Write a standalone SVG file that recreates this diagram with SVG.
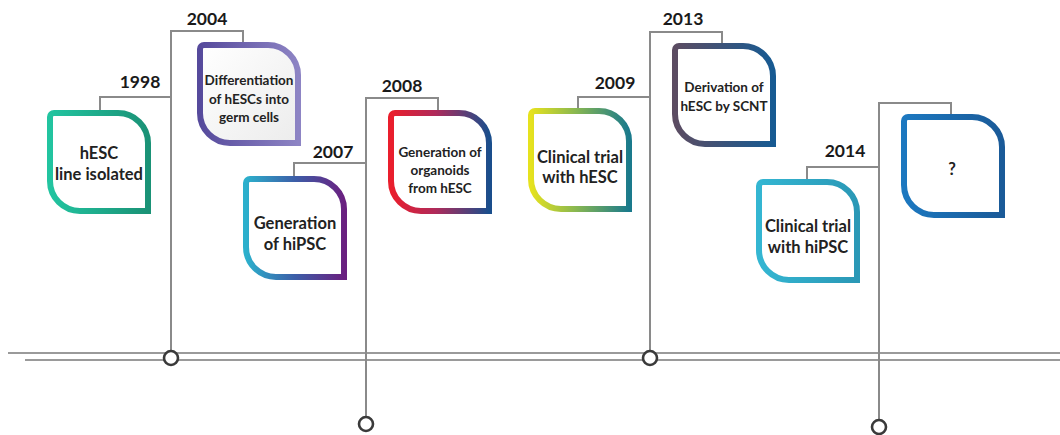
<svg xmlns="http://www.w3.org/2000/svg" width="1060" height="435" viewBox="0 0 1060 435">
<style>
.conn{fill:none;stroke:#8a8a8a;stroke-width:2}
.axis{fill:none;stroke:#9a9a9a;stroke-width:2}
.dot{fill:#fff;stroke:#3a3a3a;stroke-width:2.6}
.box{stroke-width:6;stroke-linejoin:miter}
.yr{font-family:Lato,"Liberation Sans",sans-serif;font-weight:bold;font-size:17.5px;fill:#1a1a1a;text-anchor:middle}
.t{font-family:Lato,"Liberation Sans",sans-serif;font-weight:bold;fill:#222;text-anchor:middle}
.s13{font-size:13.5px}
.s16{font-size:16.5px}
</style>
<defs>
<path id="shape" d="M7,3 H71 A30,30 0 0 1 101,33 V101 H33 A30,30 0 0 1 3,71 V7 A4,4 0 0 1 7,3 Z"/>
<linearGradient id="g1998" x1="0" y1="0" x2="1" y2="0"><stop offset="0" stop-color="#22c4a0"/><stop offset="1" stop-color="#1a9276"/></linearGradient>
<linearGradient id="g2004" x1="0" y1="0" x2="1" y2="0"><stop offset="0" stop-color="#564a9c"/><stop offset="1" stop-color="#8d84c4"/></linearGradient>
<linearGradient id="f2004" x1="0" y1="0" x2="1" y2="1"><stop offset="0" stop-color="#ffffff"/><stop offset="1" stop-color="#ececec"/></linearGradient>
<linearGradient id="g2007" x1="0" y1="0" x2="1" y2="0"><stop offset="0" stop-color="#2cb0cc"/><stop offset="0.5" stop-color="#3c5ea8"/><stop offset="1" stop-color="#6a2080"/></linearGradient>
<linearGradient id="g2008" x1="0" y1="0" x2="1" y2="0"><stop offset="0" stop-color="#ea1e2c"/><stop offset="0.45" stop-color="#b02a5a"/><stop offset="1" stop-color="#1a4e8c"/></linearGradient>
<linearGradient id="g2009" x1="0" y1="0" x2="1" y2="0"><stop offset="0" stop-color="#e6e21e"/><stop offset="0.45" stop-color="#8ab850"/><stop offset="1" stop-color="#1a7a8c"/></linearGradient>
<linearGradient id="g2013" x1="0" y1="0" x2="1" y2="0"><stop offset="0" stop-color="#5c4c62"/><stop offset="1" stop-color="#175a92"/></linearGradient>
<linearGradient id="g2014" x1="0" y1="0" x2="1" y2="0"><stop offset="0" stop-color="#34b6d2"/><stop offset="1" stop-color="#2a98b6"/></linearGradient>
<linearGradient id="gq" x1="0" y1="0" x2="1" y2="0"><stop offset="0" stop-color="#1c78c0"/><stop offset="1" stop-color="#1a5a98"/></linearGradient>
</defs>

<g id="connectors">
<line class="axis" x1="8" y1="353" x2="1060" y2="353"/>
<line class="axis" x1="25" y1="360" x2="1060" y2="360"/>
<path class="conn" d="M171,351 V31 H243 V42"/>
<path class="conn" d="M171,97 H100 V110"/>
<path class="conn" d="M366,417 V98 H438 V110"/>
<path class="conn" d="M366,163 H294 V176"/>
<path class="conn" d="M650,351 V32 H722 V43"/>
<path class="conn" d="M650,97 H578 V108"/>
<path class="conn" d="M879,420 V103 H951 V114"/>
<path class="conn" d="M879,167 H807 V179"/>
<circle class="dot" cx="171" cy="358" r="7"/>
<circle class="dot" cx="366" cy="424" r="7"/>
<circle class="dot" cx="650" cy="358" r="7"/>
<circle class="dot" cx="879" cy="427" r="7"/>
</g>

<g id="n1998">
<text class="yr" x="140" y="88">1998</text>
<use href="#shape" transform="translate(47,110)" class="box" fill="#fff" stroke="url(#g1998)"/>
<text class="t s16" x="99" y="159">hESC</text>
<text class="t s16" x="99" y="180">line isolated</text>
</g>

<g id="n2004">
<text class="yr" x="207" y="25">2004</text>
<use href="#shape" transform="translate(197,42)" class="box" fill="url(#f2004)" stroke="url(#g2004)"/>
<text class="t s13" x="249" y="85">Differentiation</text>
<text class="t s13" x="249" y="104">of hESCs into</text>
<text class="t s13" x="249" y="122">germ cells</text>
</g>

<g id="n2007">
<text class="yr" x="333" y="158">2007</text>
<use href="#shape" transform="translate(243,176)" class="box" fill="#fff" stroke="url(#g2007)"/>
<text class="t s16" x="295" y="229">Generation</text>
<text class="t s16" x="295" y="250">of hiPSC</text>
</g>

<g id="n2008">
<text class="yr" x="402" y="92">2008</text>
<use href="#shape" transform="translate(388,110)" class="box" fill="#fff" stroke="url(#g2008)"/>
<text class="t s13" x="440" y="157">Generation of</text>
<text class="t s13" x="440" y="175">organoids</text>
<text class="t s13" x="440" y="193">from hESC</text>
</g>

<g id="n2009">
<text class="yr" x="615" y="89">2009</text>
<use href="#shape" transform="translate(528,108)" class="box" fill="#fff" stroke="url(#g2009)"/>
<text class="t s16" x="580" y="163">Clinical trial</text>
<text class="t s16" x="580" y="183">with hESC</text>
</g>

<g id="n2013">
<text class="yr" x="683" y="25">2013</text>
<use href="#shape" transform="translate(672,43)" class="box" fill="#fff" stroke="url(#g2013)"/>
<text class="t s13" x="724" y="92">Derivation of</text>
<text class="t s13" x="724" y="111">hESC by SCNT</text>
</g>

<g id="n2014">
<text class="yr" x="845" y="157">2014</text>
<use href="#shape" transform="translate(756,179)" class="box" fill="#fff" stroke="url(#g2014)"/>
<text class="t s16" x="808" y="232">Clinical trial</text>
<text class="t s16" x="808" y="253">with hiPSC</text>
</g>

<g id="nq">
<use href="#shape" transform="translate(901,114)" class="box" fill="#fff" stroke="url(#gq)"/>
<text class="t s16" x="952" y="175">?</text>
</g>
</svg>
